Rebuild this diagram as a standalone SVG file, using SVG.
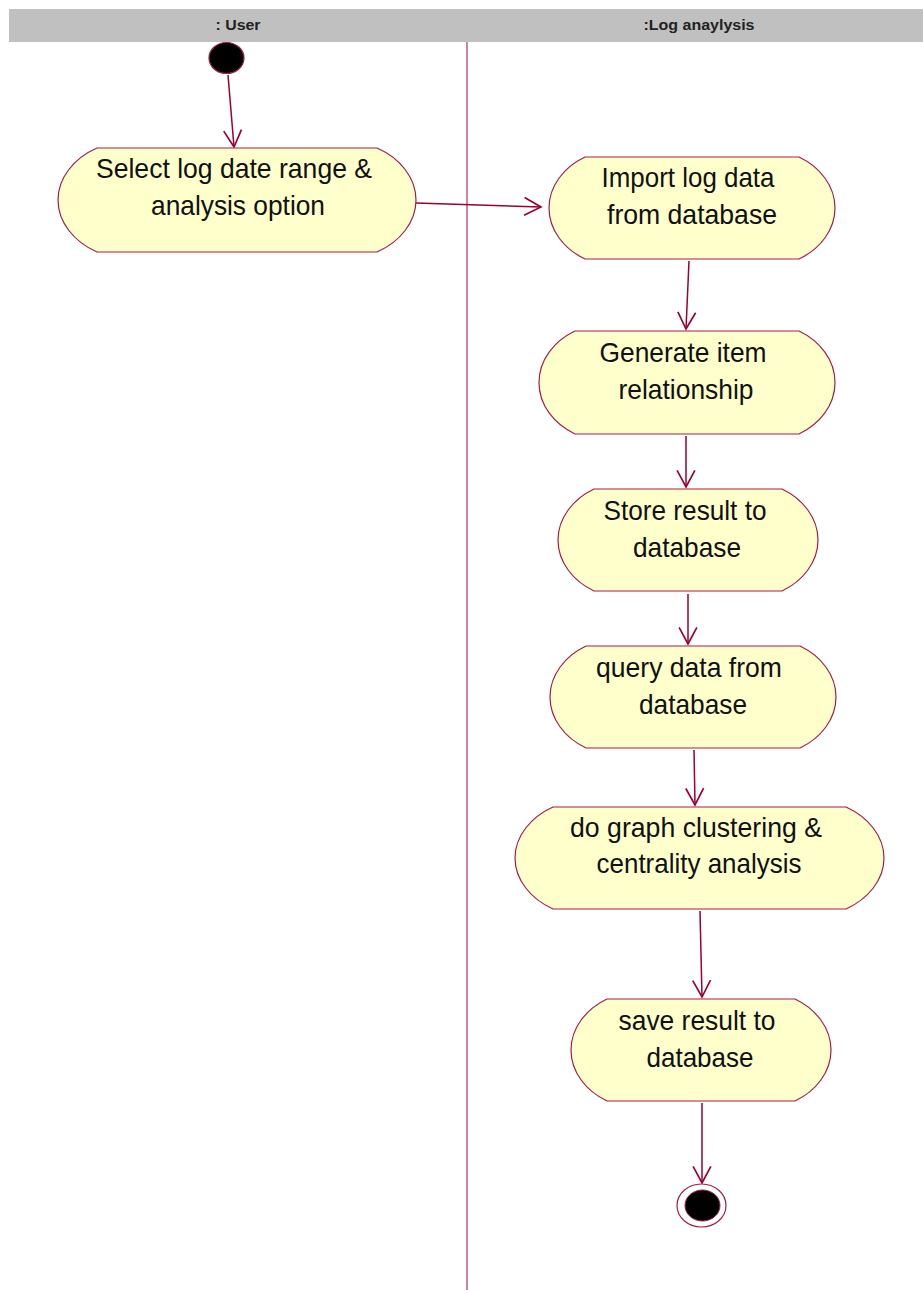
<svg xmlns="http://www.w3.org/2000/svg" width="923" height="1290" viewBox="0 0 923 1290">
  <defs>
    <style>
      .lane { fill: #c0c0c0; }
      .lane-label { font-family: "Liberation Sans", Arial, sans-serif; font-size: 14px; font-weight: bold; fill: #222; text-anchor: middle; }
      .divider { stroke: #b03060; stroke-width: 1.2; }
      .activity { fill: #ffffcc; stroke: #a51c4c; stroke-width: 1.2; }
      .label { font-family: "Liberation Sans", Arial, sans-serif; font-size: 28px; fill: #111; text-anchor: middle; }
      .flow { stroke: #990033; stroke-width: 1.5; fill: none; marker-end: url(#open-arrow); }
    </style>
    <marker id="open-arrow" markerUnits="userSpaceOnUse" markerWidth="20" markerHeight="20" viewBox="-16 -9 18 18" refX="0" refY="0" orient="auto">
      <path d="M-15,-8 L0,0 L-15,8" fill="none" stroke="#990033" stroke-width="1.5"/>
    </marker>
  </defs>

  <rect width="923" height="1290" fill="#ffffff"/>

  <!-- swimlane header and divider -->
  <g id="swimlanes">
    <rect class="lane" x="9" y="9" width="914" height="33"/>
    <text class="lane-label" x="238" y="30" textLength="45" lengthAdjust="spacingAndGlyphs">: User</text>
    <text class="lane-label" x="699" y="30" textLength="111" lengthAdjust="spacingAndGlyphs">:Log anaylysis</text>
    <line class="divider" x1="467" y1="42" x2="467" y2="1290"/>
  </g>

  <!-- control flows -->
  <g id="connectors">
    <line class="flow" x1="228" y1="75" x2="234" y2="147"/>
    <line class="flow" x1="416" y1="203" x2="541" y2="207"/>
    <line class="flow" x1="689" y1="261" x2="686" y2="329"/>
    <line class="flow" x1="686" y1="436" x2="686" y2="487"/>
    <line class="flow" x1="688" y1="594" x2="688" y2="644"/>
    <line class="flow" x1="694" y1="750" x2="695" y2="805"/>
    <line class="flow" x1="700" y1="911" x2="702" y2="997"/>
    <line class="flow" x1="702" y1="1103" x2="702" y2="1183"/>
  </g>

  <g id="start">
    <ellipse cx="226.5" cy="58" rx="17.5" ry="15.5" fill="#000" stroke="#a51c4c" stroke-width="1.2"/>
  </g>

  <g id="select-range">
    <path class="activity" d="M97,148 H377 C400,158 416,178 416,200 C416,222 400,242 377,252 H97 C74,242 58,222 58,200 C58,178 74,158 97,148 Z"/>
    <text class="label" x="234" y="178" textLength="276" lengthAdjust="spacingAndGlyphs">Select log date range &amp;</text>
    <text class="label" x="238" y="215" textLength="174" lengthAdjust="spacingAndGlyphs">analysis option</text>
  </g>

  <g id="import-log">
    <path class="activity" d="M585,157 H799 C820,167 835,186 835,208 C835,230 820,249 799,259 H585 C564,249 549,230 549,208 C549,186 564,167 585,157 Z"/>
    <text class="label" x="688" y="187" textLength="173" lengthAdjust="spacingAndGlyphs">Import log data</text>
    <text class="label" x="692" y="224" textLength="170" lengthAdjust="spacingAndGlyphs">from database</text>
  </g>

  <g id="generate-relationship">
    <path class="activity" d="M575,331 H799 C820,341 835,360 835,382.5 C835,405 820,424 799,434 H575 C554,424 539,405 539,382.5 C539,360 554,341 575,331 Z"/>
    <text class="label" x="683" y="362" textLength="167" lengthAdjust="spacingAndGlyphs">Generate item</text>
    <text class="label" x="686" y="399" textLength="135" lengthAdjust="spacingAndGlyphs">relationship</text>
  </g>

  <g id="store-result">
    <path class="activity" d="M594,489 H782 C803,499 818,518 818,540 C818,562 803,581 782,591 H594 C573,581 558,562 558,540 C558,518 573,499 594,489 Z"/>
    <text class="label" x="685" y="520" textLength="163" lengthAdjust="spacingAndGlyphs">Store result to</text>
    <text class="label" x="687" y="557" textLength="108" lengthAdjust="spacingAndGlyphs">database</text>
  </g>

  <g id="query-data">
    <path class="activity" d="M586,646 H800 C821,656 836,675 836,697 C836,719 821,738 800,748 H586 C565,738 550,719 550,697 C550,675 565,656 586,646 Z"/>
    <text class="label" x="689" y="677" textLength="186" lengthAdjust="spacingAndGlyphs">query data from</text>
    <text class="label" x="693" y="714" textLength="108" lengthAdjust="spacingAndGlyphs">database</text>
  </g>

  <g id="graph-clustering">
    <path class="activity" d="M553,807 H846 C868,817 884,836 884,858 C884,880 868,899 846,909 H553 C531,899 515,880 515,858 C515,836 531,817 553,807 Z"/>
    <text class="label" x="696" y="837" textLength="252" lengthAdjust="spacingAndGlyphs">do graph clustering &amp;</text>
    <text class="label" x="699" y="873" textLength="205" lengthAdjust="spacingAndGlyphs">centrality analysis</text>
  </g>

  <g id="save-result">
    <path class="activity" d="M607,999 H795 C816,1009 831,1028 831,1050 C831,1072 816,1091 795,1101 H607 C586,1091 571,1072 571,1050 C571,1028 586,1009 607,999 Z"/>
    <text class="label" x="697" y="1030" textLength="157" lengthAdjust="spacingAndGlyphs">save result to</text>
    <text class="label" x="700" y="1067" textLength="107" lengthAdjust="spacingAndGlyphs">database</text>
  </g>

  <g id="end">
    <ellipse cx="701.5" cy="1205.5" rx="24.5" ry="21.5" fill="#fff" stroke="#a51c4c" stroke-width="1.2"/>
    <ellipse cx="702.5" cy="1205.5" rx="17.5" ry="15.5" fill="#000" stroke="#a51c4c" stroke-width="1"/>
  </g>
</svg>
